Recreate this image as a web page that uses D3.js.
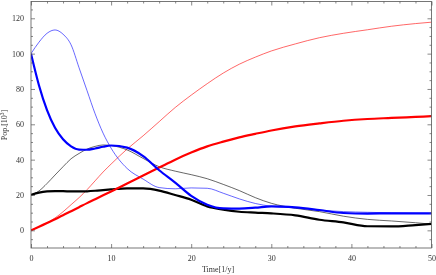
<!DOCTYPE html>
<html lang="en">
    <head>
        <meta charset="utf-8">
        <title>Population</title>
        <script type="text/javascript" src="https://cdnjs.cloudflare.com/ajax/libs/d3/7.8.5/d3.min.js"></script>
        <style>
            body { margin: 0; background: #fff; }
            svg { will-change: transform; }
            .tick text { font-family: "Liberation Serif", serif; font-size: 8px; fill: #333; }
            .tick line { stroke: #555; stroke-width: 0.7; }
        </style>
    </head>
    <body>
        <script type="text/javascript">

            //Width and height
            var w = 436;
            var h = 275;

            // time points (1/y)
            var time = [0, 1, 2, 3, 4, 5, 6, 7, 8, 9, 10, 12, 14, 16, 18, 20, 22, 24, 26, 28, 30, 33, 36, 39, 42, 45, 48, 50];

            // populations (10^3)
            var blueThin  = [100, 106.5, 111.5, 113.4, 111, 105, 92, 79, 66, 55, 46.5, 35, 29, 24.2, 23.5, 24, 23.8, 21, 17.8, 15.2, 13.6, 12.7, 11.5, 10.6, 10.2, 9.9, 9.7, 9.6];
            var blueThick = [100, 82, 68, 58, 51.5, 47.5, 45.7, 45.6, 46.3, 47.3, 48, 46.8, 42, 34, 27, 19.5, 14.5, 12.4, 12.3, 12.8, 13.6, 13, 11.5, 9.8, 9.5, 9.6, 9.6, 9.6];
            var blackThin = [20, 22.3, 26.5, 31.3, 36, 40.5, 43.5, 46, 47.5, 48.3, 48, 45.5, 40.7, 36, 33.5, 31.5, 29.2, 26, 22.5, 18.5, 15.3, 12.5, 10.6, 8, 6.2, 5.3, 4.3, 3.5];
            var blackThick = [20, 21.3, 22, 22.2, 22.2, 22, 22, 22.1, 22.4, 22.8, 23.2, 23.8, 23.7, 22.5, 20, 17.3, 13.5, 11.7, 10.5, 10, 9.6, 8.5, 6, 4.5, 2.3, 2.2, 3, 3.6];
            var redThin   = [0, 2, 4.2, 7, 10.5, 14.5, 18.5, 23, 28, 33, 37.5, 46, 53.5, 61.5, 69.5, 76.5, 83, 89, 94, 98, 101.5, 105.5, 109, 111.5, 113.5, 115.5, 117, 117.8];
            var redThick  = [0, 2, 4.1, 6.3, 8.5, 10.8, 13.1, 15.4, 17.6, 19.8, 22, 26.5, 31, 35.5, 40, 44, 47.5, 50.2, 52.6, 54.6, 56.5, 58.8, 60.5, 62, 63, 63.6, 64.2, 64.6];

            var xMajor = [0, 10, 20, 30, 40, 50];
            var yMajor = [0, 20, 40, 60, 80, 100, 120];

            var series = [
                { values: redThin, color: "#ff0000", width: 0.6 },
                { values: blueThin, color: "#0000ff", width: 0.6 },
                { values: blackThin, color: "#000000", width: 0.6 },
                { values: blackThick, color: "#000000", width: 2.2 },
                { values: redThick, color: "#ff0000", width: 2.2 },
                { values: blueThick, color: "#0000ff", width: 2.2 }
            ];

            //Create scale functions
            var xScale = d3.scaleLinear()
                    .domain([0, 50])
                    .range([31, 431.5]);

            var yScale = d3.scaleLinear()
                    .domain([-10, 129.5])
                    .range([248, 1.5]);

            //Create SVG element
            var svg = d3.select("body")
                    .append("svg")
                    .attr("width", w)
                    .attr("height", h);

            var xLeft = xScale.range()[0], xRight = xScale.range()[1];
            var yTop = yScale.range()[1], yBottom = yScale.range()[0];

            svg.append("clipPath").attr("id", "clip")
                    .append("rect")
                    .attr("x", xLeft).attr("y", yTop)
                    .attr("width", xRight - xLeft).attr("height", yBottom - yTop);

            var line = d3.line()
                    .x(function (d, i) { return xScale(time[i]); })
                    .y(function (d) { return yScale(d); })
                    .curve(d3.curveMonotoneX);

            svg.append("g")
                    .attr("clip-path", "url(#clip)")
                    .selectAll("path")
                    .data(series)
                    .enter()
                    .append("path")
                    .attr("d", function (d) { return line(d.values); })
                    .attr("fill", "none")
                    .attr("stroke", function (d) { return d.color; })
                    .attr("stroke-width", function (d) { return d.width; })
                    .attr("stroke-linejoin", "round");

            //Axes (ticks pointing inward)
            var xMinor = d3.range(0, 51, 2).filter(function (v) { return v % 10 !== 0; });
            var yMinor = d3.range(-5, 126, 5).filter(function (v) { return v % 20 !== 0; });

            function addAxis(axis, tx, ty) {
                var g = svg.append("g")
                        .attr("transform", "translate(" + tx + "," + ty + ")")
                        .call(axis);
                g.select(".domain").remove();
                g.selectAll("text").attr("fill", "#333");
                return g;
            }

            addAxis(d3.axisBottom(xScale).tickValues(xMajor).tickSize(-4).tickPadding(7), 0, yBottom);
            addAxis(d3.axisBottom(xScale).tickValues(xMinor).tickSize(-2).tickFormat(""), 0, yBottom);
            addAxis(d3.axisTop(xScale).tickValues(xMajor).tickSize(-4).tickFormat(""), 0, yTop);
            addAxis(d3.axisTop(xScale).tickValues(xMinor).tickSize(-2).tickFormat(""), 0, yTop);

            addAxis(d3.axisLeft(yScale).tickValues(yMajor).tickSize(-4).tickPadding(7), xLeft, 0);
            addAxis(d3.axisLeft(yScale).tickValues(yMinor).tickSize(-2).tickFormat(""), xLeft, 0);
            addAxis(d3.axisRight(yScale).tickValues(yMajor).tickSize(-4).tickFormat(""), xRight, 0);
            addAxis(d3.axisRight(yScale).tickValues(yMinor).tickSize(-2).tickFormat(""), xRight, 0);

            //Frame
            svg.append("rect")
                    .attr("x", xLeft).attr("y", yTop)
                    .attr("width", xRight - xLeft).attr("height", yBottom - yTop)
                    .attr("fill", "none")
                    .attr("stroke", "#555")
                    .attr("stroke-width", 0.8);

            //Axis labels
            svg.append("text")
                    .attr("x", 218)
                    .attr("y", 272)
                    .attr("text-anchor", "middle")
                    .attr("font-family", "Liberation Serif, serif")
                    .attr("font-size", "8px")
                    .attr("fill", "#333")
                    .text("Time[1/y]");

            var ylab = svg.append("text")
                    .attr("transform", "translate(7,125) rotate(-90)")
                    .attr("text-anchor", "middle")
                    .attr("font-family", "Liberation Serif, serif")
                    .attr("font-size", "8px")
                    .attr("fill", "#333");
            ylab.append("tspan").text("Pop.[10");
            ylab.append("tspan").attr("font-size", "5.5px").attr("dy", -3).text("3");
            ylab.append("tspan").attr("dy", 3).text("]");

        </script>
    </body>
</html>
